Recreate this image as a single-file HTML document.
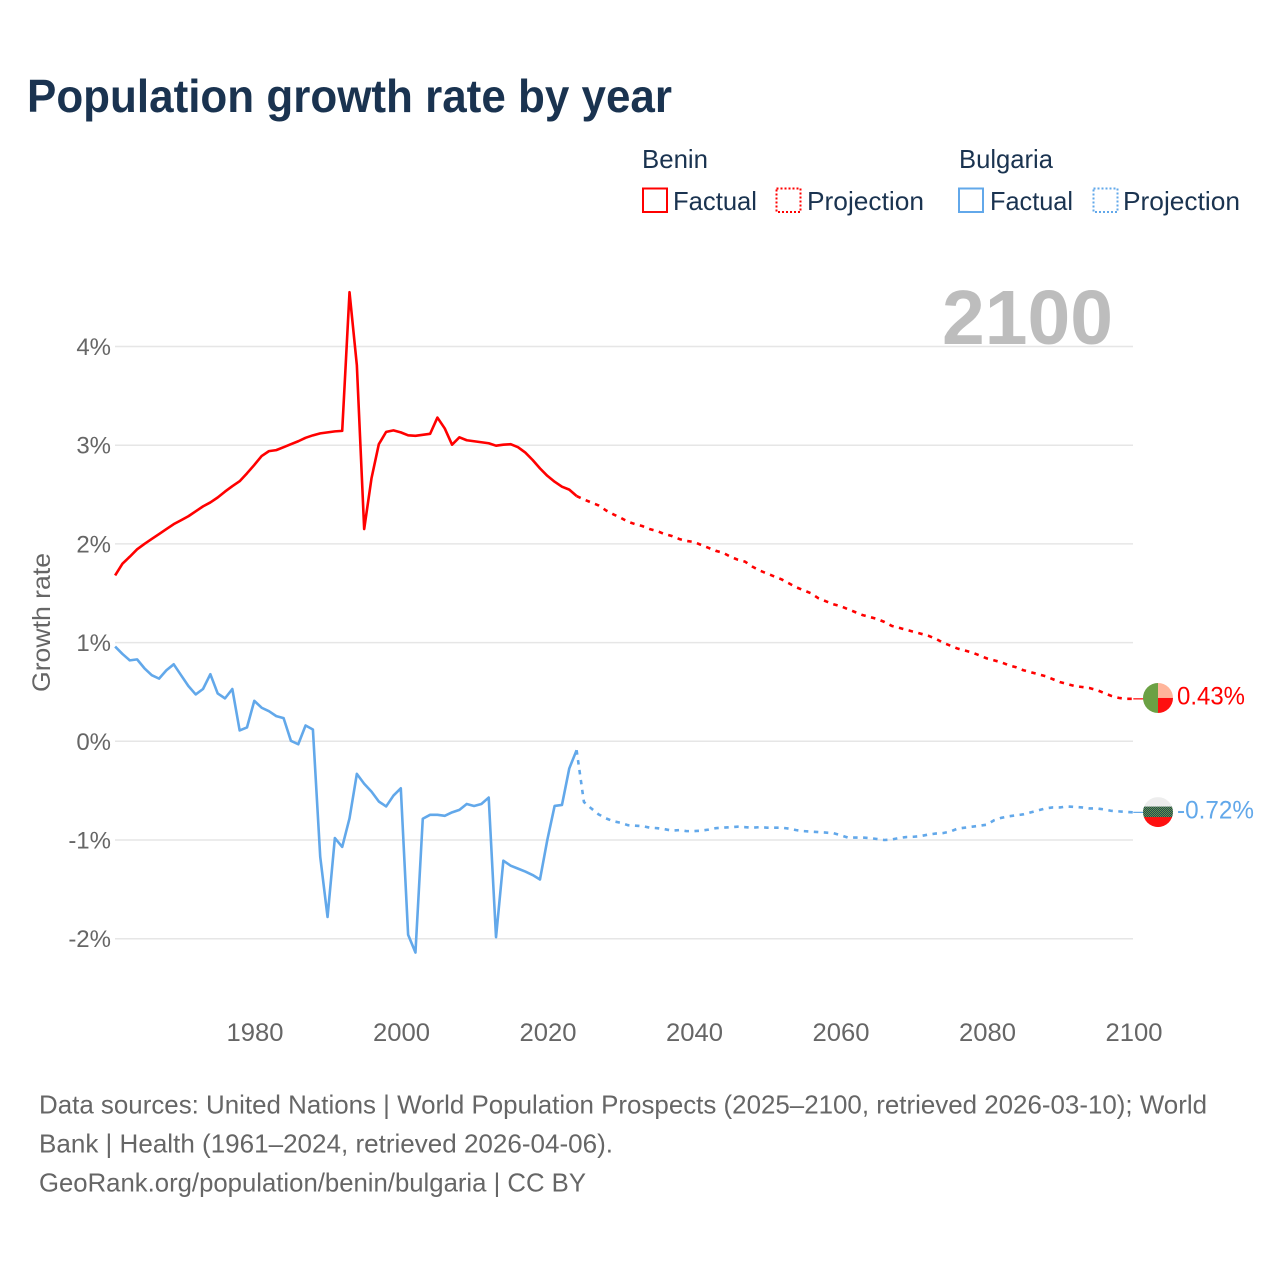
<!DOCTYPE html>
<html lang="en">
<head>
<meta charset="utf-8">
<title>Population growth rate by year</title>
<style>
html,body{margin:0;padding:0;background:#fff;}
svg{display:block;font-family:"Liberation Sans",Arial,sans-serif;}
</style>
</head>
<body>
<svg id="chart" width="1280" height="1280" viewBox="0 0 1280 1280" xmlns="http://www.w3.org/2000/svg">
  <defs>
    <pattern id="checker" width="2" height="2" patternUnits="userSpaceOnUse">
      <rect width="2" height="2" fill="#1c3a5c"/>
      <rect width="1" height="1" fill="#6ba144"/>
      <rect x="1" y="1" width="1" height="1" fill="#6ba144"/>
    </pattern>
    <clipPath id="flag-clip-benin"><circle id="clip-benin" cx="1158" cy="698" r="15"/></clipPath>
    <clipPath id="flag-clip-bulgaria"><circle id="clip-bulgaria" cx="1158" cy="812" r="15"/></clipPath>
  </defs>
  <rect width="1280" height="1280" fill="#fff"/>
  <text x="27" y="112" font-size="46" font-weight="700" fill="#1a3350" textLength="645" lengthAdjust="spacingAndGlyphs">Population growth rate by year</text>

  <g font-size="26" fill="#1a3350">
    <text x="642" y="168" textLength="66" lengthAdjust="spacingAndGlyphs">Benin</text>
    <text x="959" y="168" textLength="94" lengthAdjust="spacingAndGlyphs">Bulgaria</text>
    <rect x="643" y="188.5" width="24" height="23.5" fill="none" stroke="#ff0000" stroke-width="2"/>
    <text x="673" y="210" textLength="84" lengthAdjust="spacingAndGlyphs">Factual</text>
    <rect x="776.5" y="188.5" width="24" height="23.5" fill="none" stroke="#ff0000" stroke-width="2" stroke-dasharray="2 2"/>
    <text x="807" y="210" textLength="117" lengthAdjust="spacingAndGlyphs">Projection</text>
    <rect x="959" y="188.5" width="24" height="23.5" fill="none" stroke="#62a8ea" stroke-width="2"/>
    <text x="990" y="210" textLength="83" lengthAdjust="spacingAndGlyphs">Factual</text>
    <rect x="1093.5" y="188.5" width="24" height="23.5" fill="none" stroke="#62a8ea" stroke-width="2" stroke-dasharray="2 2"/>
    <text x="1123" y="210" textLength="117" lengthAdjust="spacingAndGlyphs">Projection</text>
  </g>

  <g id="grid"></g>
  <g id="y-ticks"></g>
  <g id="x-ticks"></g>
  <text transform="translate(50,692) rotate(-90)" font-size="25" fill="#666" textLength="139" lengthAdjust="spacingAndGlyphs">Growth rate</text>
  <text x="942" y="344" font-size="77" font-weight="700" fill="#bdbdbd" textLength="171" lengthAdjust="spacingAndGlyphs">2100</text>

  <g id="series"></g>

  <g id="flag-benin" clip-path="url(#flag-clip-benin)">
    <rect id="fb-bg" x="1143" y="683" width="15" height="30" fill="#6ba144"/>
    <rect id="fb-top" x="1158" y="683" width="15" height="15" fill="#ffb59b"/>
    <rect id="fb-bot" x="1158" y="698" width="15" height="15" fill="#fe1010"/>
  </g>
  <g id="flag-bulgaria" clip-path="url(#flag-clip-bulgaria)">
    <rect id="fg-top" x="1143" y="797" width="30" height="10" fill="#ededed"/>
    <rect id="fg-mid" x="1143" y="806.5" width="30" height="11" fill="url(#checker)"/>
    <rect id="fg-bot" x="1143" y="817" width="30" height="10" fill="#fe1010"/>
  </g>
  <text id="end-benin" x="1177" y="704" font-size="25" fill="#ff0000" textLength="68" lengthAdjust="spacingAndGlyphs"></text>
  <text id="end-bulgaria" x="1177" y="818" font-size="25" fill="#62a8ea" textLength="77" lengthAdjust="spacingAndGlyphs"></text>

  <g font-size="26" fill="#666">
    <text x="39" y="1113.5" textLength="1168" lengthAdjust="spacingAndGlyphs">Data sources: United Nations | World Population Prospects (2025–2100, retrieved 2026-03-10); World</text>
    <text x="39" y="1152.5" textLength="574" lengthAdjust="spacingAndGlyphs">Bank | Health (1961–2024, retrieved 2026-04-06).</text>
    <text x="39" y="1191.5" textLength="547" lengthAdjust="spacingAndGlyphs">GeoRank.org/population/benin/bulgaria | CC BY</text>
  </g>
</svg>
<script>
const yTicks = [4, 3, 2, 1, 0, -1, -2];
const yTickLabels = ["4%", "3%", "2%", "1%", "0%", "-1%", "-2%"];
const xTicks = [1980, 2000, 2020, 2040, 2060, 2080, 2100];
const xTickLabels = ["1980", "2000", "2020", "2040", "2060", "2080", "2100"];
const factualStartYear = 1961;
const projectionStartYear = 2025;
const beninFactual = [1.68,1.80,1.87,1.945,2.00,2.05,2.10,2.15,2.20,2.24,2.28,2.33,2.38,2.42,2.47,2.53,2.585,2.635,2.715,2.80,2.89,2.94,2.95,2.98,3.01,3.04,3.075,3.10,3.12,3.13,3.14,3.145,4.55,3.81,2.15,2.665,3.01,3.135,3.15,3.13,3.10,3.095,3.105,3.115,3.28,3.17,3.005,3.08,3.05,3.04,3.03,3.02,2.995,3.005,3.01,2.98,2.925,2.85,2.765,2.69,2.63,2.58,2.55,2.485];
const beninProjection = [2.45,2.42,2.39,2.34,2.30,2.265,2.225,2.20,2.18,2.15,2.13,2.10,2.08,2.05,2.03,2.02,1.99,1.96,1.93,1.91,1.87,1.84,1.82,1.77,1.73,1.70,1.67,1.64,1.60,1.56,1.53,1.50,1.45,1.42,1.39,1.37,1.34,1.31,1.28,1.26,1.24,1.21,1.17,1.15,1.13,1.11,1.09,1.07,1.04,1.00,0.97,0.94,0.92,0.90,0.87,0.84,0.82,0.80,0.77,0.75,0.72,0.70,0.68,0.66,0.63,0.60,0.58,0.56,0.55,0.54,0.52,0.49,0.46,0.44,0.43,0.43];
const bulgariaFactual = [0.96,0.885,0.82,0.83,0.74,0.67,0.635,0.72,0.78,0.67,0.56,0.475,0.53,0.68,0.485,0.435,0.53,0.11,0.14,0.41,0.34,0.305,0.255,0.235,0.005,-0.03,0.16,0.12,-1.17,-1.78,-0.98,-1.07,-0.78,-0.33,-0.43,-0.51,-0.61,-0.66,-0.55,-0.476,-1.96,-2.14,-0.785,-0.745,-0.745,-0.755,-0.72,-0.695,-0.635,-0.655,-0.635,-0.57,-1.985,-1.21,-1.26,-1.29,-1.32,-1.355,-1.40,-1.0,-0.655,-0.645,-0.275,-0.09];
const bulgariaProjection = [-0.615,-0.68,-0.74,-0.78,-0.81,-0.825,-0.85,-0.855,-0.86,-0.875,-0.88,-0.89,-0.905,-0.90,-0.91,-0.91,-0.905,-0.895,-0.88,-0.875,-0.87,-0.865,-0.87,-0.875,-0.87,-0.875,-0.875,-0.875,-0.885,-0.90,-0.91,-0.915,-0.92,-0.925,-0.93,-0.95,-0.975,-0.975,-0.975,-0.98,-0.99,-1.0,-0.995,-0.98,-0.97,-0.967,-0.96,-0.945,-0.935,-0.93,-0.915,-0.885,-0.875,-0.865,-0.855,-0.845,-0.80,-0.775,-0.76,-0.75,-0.74,-0.72,-0.70,-0.68,-0.67,-0.67,-0.66,-0.665,-0.67,-0.68,-0.68,-0.69,-0.705,-0.71,-0.715,-0.72];
const beninEndLabel = "0.43%";
const bulgariaEndLabel = "-0.72%";

const SVG_NS = "http://www.w3.org/2000/svg";
function xScale(year) { return 1133.3 + (year - 2100) * 7.325; }
function yScale(value) { return 741.3 - value * 98.7; }
function make(tag, attrs, parent) {
  const el = document.createElementNS(SVG_NS, tag);
  for (const k in attrs) el.setAttribute(k, attrs[k]);
  parent.appendChild(el);
  return el;
}
function pathFrom(values, startYear) {
  return values.map(function (v, i) {
    return (i ? "L" : "M") + xScale(startYear + i).toFixed(2) + " " + yScale(v).toFixed(2);
  }).join(" ");
}

const gridGroup = document.getElementById("grid");
const yGroup = document.getElementById("y-ticks");
const xGroup = document.getElementById("x-ticks");
const seriesGroup = document.getElementById("series");

yTicks.forEach(function (t, i) {
  const line = make("line", { x1: 115, x2: 1133, y1: yScale(t), y2: yScale(t), stroke: "#e6e6e6", "stroke-width": 1.5 }, gridGroup);
  
  
  const label = make("text", { x: 111, y: yScale(t) + 8.5, "text-anchor": "end", "font-size": 24, fill: "#666" }, yGroup);
  
  
  label.textContent = yTickLabels[i];
});

xTicks.forEach(function (t, i) {
  const label = make("text", { x: xScale(t) + 0.7, y: 1041, "text-anchor": "middle", "font-size": 25, fill: "#666", textLength: 57, lengthAdjust: "spacingAndGlyphs" }, xGroup);
  
  
  label.textContent = xTickLabels[i];
});

function drawSeries(name, color, factual, projection) {
  const solid = make("path", { d: pathFrom(factual, factualStartYear), fill: "none", stroke: color, "stroke-width": 2.6, "stroke-linejoin": "round" }, seriesGroup);
  
  
  const joined = [factual[factual.length - 1]].concat(projection);
  const dashed = make("path", { d: pathFrom(joined, projectionStartYear - 1), fill: "none", stroke: color, "stroke-width": 2.6, "stroke-dasharray": "4.5 5.5", "stroke-linejoin": "round" }, seriesGroup);
  
  
  const lastValue = projection[projection.length - 1];
  const leader = make("line", { x1: xScale(2100), x2: 1144, y1: yScale(lastValue), y2: yScale(lastValue), stroke: color, "stroke-width": 1.2 }, seriesGroup);
  
  
  return yScale(lastValue);
}
const beninEndY = drawSeries("benin", "#ff0000", beninFactual, beninProjection);
const bulgariaEndY = drawSeries("bulgaria", "#62a8ea", bulgariaFactual, bulgariaProjection);

const beninShift = beninEndY - 698.9;
const bulgariaShift = bulgariaEndY - 812.3;
document.getElementById("flag-benin").setAttribute("transform", "translate(0," + beninShift + ")");
document.getElementById("flag-bulgaria").setAttribute("transform", "translate(0," + bulgariaShift + ")");
const beninText = document.getElementById("end-benin");
beninText.textContent = beninEndLabel;
beninText.setAttribute("y", beninEndY + 5.5);
const bulgariaText = document.getElementById("end-bulgaria");
bulgariaText.textContent = bulgariaEndLabel;
bulgariaText.setAttribute("y", bulgariaEndY + 6);
</script>
</body>
</html>
